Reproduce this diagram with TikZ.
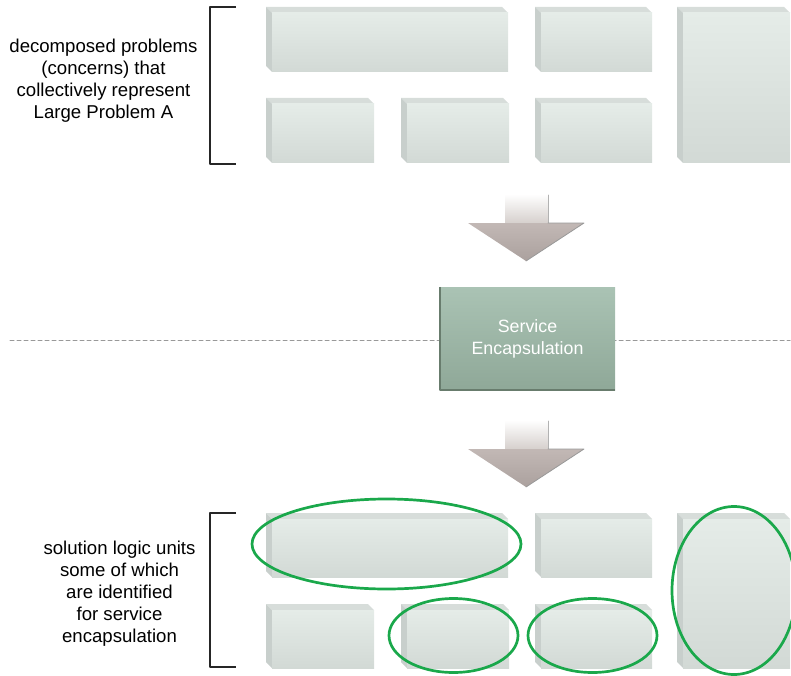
\documentclass[tikz,border=0pt]{standalone}
\usepackage{fontspec}
\setmainfont{Liberation Sans}
\definecolor{boxtop}{HTML}{D7DDDA}
\definecolor{boxside}{HTML}{C8CFCC}
\definecolor{boxlight}{HTML}{E5ECE8}
\definecolor{boxdark}{HTML}{D2D9D5}
\definecolor{servicetop}{HTML}{AAC3B4}
\definecolor{servicebottom}{HTML}{8FA898}
\definecolor{serviceedge}{HTML}{687C6D}
\definecolor{stembottom}{HTML}{D6D0CD}
\definecolor{headtop}{HTML}{C2B8B5}
\definecolor{headbottom}{HTML}{ABA19E}
\definecolor{ringgreen}{HTML}{1AA84B}
\begin{document}
\begin{tikzpicture}[x=1pt, y=-1pt, line join=round, line cap=round,
		note/.style={align=center, text=black, font=\fontsize{18.6}{22}\selectfont},
		servicebox/.style={minimum width=175pt, minimum height=103pt, top color=servicetop, bottom color=servicebottom, align=center, text=white, font=\fontsize{17.8}{22}\selectfont},
		topface/.style={fill=boxtop},
		sideface/.style={fill=boxside},
		frontface/.style={top color=boxlight, bottom color=boxdark},
		bracket/.style={draw=black!85, line width=1.4pt, line cap=butt},
		ring/.style={draw=ringgreen, line width=2.7pt}]
				\useasboundingbox (0,0) rectangle (791,676);
				\def\bev{6}
				\def\cube#1#2#3#4{%
					\fill[topface] (#1,#2) -- (#3-\bev,#2) -- (#3,#2+\bev) -- (#1+\bev,#2+\bev) -- cycle;
					\fill[sideface] (#1,#2) -- (#1+\bev,#2+\bev) -- (#1+\bev,#4) -- (#1,#4-\bev) -- cycle;
					\shade[frontface] (#1+\bev,#2+\bev) rectangle (#3,#4);}
				\draw[black!40, line width=1pt, dash pattern=on 4pt off 3pt] (10,340) -- (790,340);
				\foreach \xa/\ya/\xb/\yb in {266/7/508/72, 535/7/652/72, 266/98/374/163, 401/98/509/163, 535/98/652/163, 677/7/790/163,
					266/513/508/577, 535/513/652/577, 266/604/374/668, 401/604/509/668, 535/604/652/668, 677/513/790/668}
				\cube{\xa}{\ya}{\xb}{\yb};
				\foreach \ya in {194, 420} {
					\shade[top color=white, bottom color=stembottom] (505,\ya) rectangle (548,\ya+29);
					\draw[black!30, line width=0.8pt] (548,\ya+1) -- (548,\ya+29);
					\shade[top color=headtop, bottom color=headbottom] (468,\ya+29) -- (584,\ya+29) -- (526,\ya+67) -- cycle;
					\draw[black!40, line width=0.8pt] (548,\ya+29) -- (584,\ya+29) -- (526,\ya+67);
				}
				\node[servicebox] (service) at (527.5,338.5) {Service\\Encapsulation};
				\draw[serviceedge, line width=2pt, line cap=butt] (service.north west) -- (service.south west) -- (service.south east);
				\draw[bracket] (236,7) -- (210,7) -- (210,164) -- (236,164);
				\draw[bracket] (236,513) -- (210,513) -- (210,667) -- (236,667);
				\node[note] (problems) at (103.5,81) {decomposed problems\\(concerns) that\\collectively represent\\Large Problem A};
				\node[note] (solutions) at (119.5,594) {solution logic units\\some of which\\are identified\\for service\\encapsulation};
				\draw[ring] (386.5,544) ellipse [x radius=134.5, y radius=45];
				\draw[ring] (453.5,635.5) ellipse [x radius=64.5, y radius=37];
				\draw[ring] (592.5,635.5) ellipse [x radius=64.5, y radius=37];
				\draw[ring] (734,590.5) ellipse [x radius=62, y radius=84];
			\end{tikzpicture}
\end{document}
